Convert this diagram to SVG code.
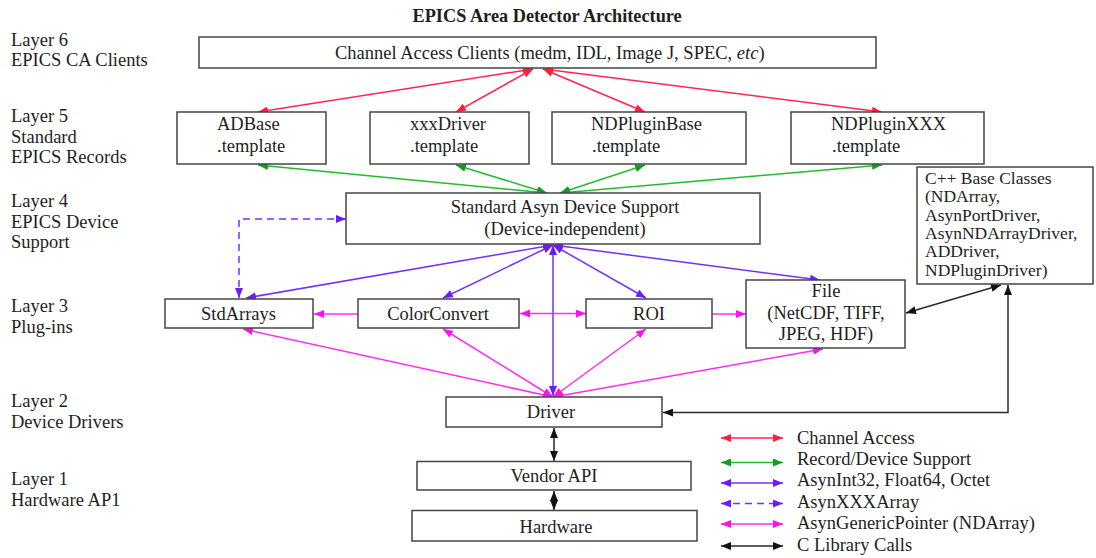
<svg xmlns="http://www.w3.org/2000/svg" width="1096" height="558" viewBox="0 0 1096 558">
  <style>
    text { font-family: "Liberation Serif", "Times New Roman", serif; font-size: 18.5px; fill: #1e1e1e; }
    .title { font-weight: bold; font-size: 18.3px; }
    .small { font-size: 17.5px; }
    .box { fill: #ffffff; stroke: #454545; stroke-width: 1.5; }
    .c { text-anchor: middle; }
    .ln { fill: none; stroke-width: 1.5; }
    .ca { stroke: #ff2650; marker-start: url(#aR); marker-end: url(#aR); }
    .rd { stroke: #22bb33; marker-start: url(#aG); marker-end: url(#aG); }
    .ai { stroke: #7530ff; marker-start: url(#aP); marker-end: url(#aP); }
    .ax { stroke: #7530ff; stroke-dasharray: 7 5; marker-start: url(#aP); marker-end: url(#aP); }
    .gp { stroke: #ff2cf2; marker-start: url(#aM); marker-end: url(#aM); }
    .gp1 { stroke: #ff2cf2; marker-end: url(#aM); }
    .cl { stroke: #2a2a2a; marker-start: url(#aK); marker-end: url(#aK); }
  </style>
  <defs>
    <marker id="aR" viewBox="0 0 10 8" refX="10" refY="4" markerWidth="10" markerHeight="8" markerUnits="userSpaceOnUse" orient="auto-start-reverse"><path d="M0,0 L10,4 L0,8 z" fill="#ff1f3a"/></marker>
    <marker id="aG" viewBox="0 0 10 8" refX="10" refY="4" markerWidth="10" markerHeight="8" markerUnits="userSpaceOnUse" orient="auto-start-reverse"><path d="M0,0 L10,4 L0,8 z" fill="#169a22"/></marker>
    <marker id="aP" viewBox="0 0 10 8" refX="10" refY="4" markerWidth="10" markerHeight="8" markerUnits="userSpaceOnUse" orient="auto-start-reverse"><path d="M0,0 L10,4 L0,8 z" fill="#6a1cff"/></marker>
    <marker id="aM" viewBox="0 0 10 8" refX="10" refY="4" markerWidth="10" markerHeight="8" markerUnits="userSpaceOnUse" orient="auto-start-reverse"><path d="M0,0 L10,4 L0,8 z" fill="#ff10ee"/></marker>
    <marker id="aK" viewBox="0 0 10 8" refX="10" refY="4" markerWidth="10" markerHeight="8" markerUnits="userSpaceOnUse" orient="auto-start-reverse"><path d="M0,0 L10,4 L0,8 z" fill="#111111"/></marker>
  </defs>

  <rect width="1096" height="558" fill="#ffffff"/>

  <text class="title" x="412.5" y="22">EPICS Area Detector Architecture</text>

  <!-- layer captions -->
  <g id="layer-labels">
    <text x="11" y="45.5">Layer 6</text>
    <text x="11" y="66">EPICS CA Clients</text>
    <text x="11" y="122">Layer 5</text>
    <text x="11" y="142.7">Standard</text>
    <text x="11" y="163.3">EPICS Records</text>
    <text x="11" y="206.7">Layer 4</text>
    <text x="11" y="228.3">EPICS Device</text>
    <text x="11" y="248.3">Support</text>
    <text x="11" y="311.7">Layer 3</text>
    <text x="11" y="333.3">Plug-ins</text>
    <text x="11" y="407">Layer 2</text>
    <text x="11" y="428">Device Drivers</text>
    <text x="11" y="485">Layer 1</text>
    <text x="11" y="505.5">Hardware AP1</text>
  </g>

  <!-- connectors -->
  <g id="connectors">
    <!-- Channel Access -->
    <path class="ln ca" d="M533,69 L258,112"/>
    <path class="ln ca" d="M533,69 L456,112"/>
    <path class="ln ca" d="M543,69 L645,112"/>
    <path class="ln ca" d="M543,69 L882,112"/>
    <!-- Record / device support -->
    <path class="ln rd" d="M547,193 L258,165"/>
    <path class="ln rd" d="M547,193 L456,165"/>
    <path class="ln rd" d="M560,193 L645,165"/>
    <path class="ln rd" d="M560,193 L882,165"/>
    <!-- asynInt32 / Float64 / Octet -->
    <path class="ln ai" d="M553,245 L246,298"/>
    <path class="ln ai" d="M553,245 L443,298"/>
    <path class="ln ai" d="M553,245 L553,396"/>
    <path class="ln ai" d="M553,245 L646,298"/>
    <path class="ln ai" d="M553,245 L820,280"/>
    <!-- asynXXXArray -->
    <path class="ln ax" d="M346,219 L239,219 L239,298"/>
    <!-- asynGenericPointer -->
    <path class="ln gp1" d="M358,314 L314,314"/>
    <path class="ln gp" d="M520,313.5 L586,313.5"/>
    <path class="ln gp1" d="M712,314 L746,314"/>
    <path class="ln gp" d="M553,397 L243,329"/>
    <path class="ln gp" d="M553,397 L443,329"/>
    <path class="ln gp" d="M553,397 L646,329"/>
    <path class="ln gp" d="M553,397 L823,349"/>
    <!-- C library calls -->
    <path class="ln cl" d="M906,313 L1001,285"/>
    <path class="ln cl" d="M663,412.5 L1008,412.5 L1008,285"/>
    <path class="ln cl" d="M554,428 L554,461"/>
    <path class="ln cl" d="M554,491 L554,510"/>
  </g>

  <g id="ca-clients">
    <rect class="box" x="199" y="37" width="677" height="31"/>
    <text x="335" y="59">Channel Access Clients (medm, IDL, Image J, SPEC, <tspan font-style="italic">etc</tspan>)</text>
  </g>

  <g id="adbase-template">
    <rect class="box" x="177" y="112" width="149" height="52"/>
    <text x="217" y="130">ADBase</text>
    <text x="217" y="152">.template</text>
  </g>
  <g id="xxxdriver-template">
    <rect class="box" x="370" y="112" width="159" height="52"/>
    <text x="410" y="130">xxxDriver</text>
    <text x="410" y="152">.template</text>
  </g>
  <g id="ndpluginbase-template">
    <rect class="box" x="552" y="112" width="194" height="52"/>
    <text x="591" y="130">NDPluginBase</text>
    <text x="592" y="152">.template</text>
  </g>
  <g id="ndpluginxxx-template">
    <rect class="box" x="791" y="112" width="193" height="52"/>
    <text x="831" y="130">NDPluginXXX</text>
    <text x="832" y="152">.template</text>
  </g>

  <g id="asyn-device-support">
    <rect class="box" x="346" y="193" width="414" height="51"/>
    <text class="c" x="565" y="213">Standard Asyn Device Support</text>
    <text class="c" x="565" y="235">(Device-independent)</text>
  </g>

  <g id="cpp-base-classes">
    <rect class="box" x="917" y="167" width="176" height="117"/>
    <text class="small" x="925" y="184">C++ Base Classes</text>
    <text class="small" x="925" y="202.3">(NDArray,</text>
    <text class="small" x="925" y="220.6">AsynPortDriver,</text>
    <text class="small" x="925" y="238.9">AsynNDArrayDriver,</text>
    <text class="small" x="925" y="257.2">ADDriver,</text>
    <text class="small" x="925" y="275.5">NDPluginDriver)</text>
  </g>

  <g id="stdarrays">
    <rect class="box" x="165" y="299" width="148" height="29"/>
    <text class="c" x="238.5" y="320">StdArrays</text>
  </g>
  <g id="colorconvert">
    <rect class="box" x="358" y="299" width="161" height="29"/>
    <text class="c" x="438" y="320">ColorConvert</text>
  </g>
  <g id="roi">
    <rect class="box" x="586" y="299" width="126" height="29"/>
    <text class="c" x="649" y="320">ROI</text>
  </g>
  <g id="file">
    <rect class="box" x="746" y="280" width="159" height="68"/>
    <text class="c" x="826" y="297">File</text>
    <text class="c" x="826" y="318.5">(NetCDF, TIFF,</text>
    <text class="c" x="826" y="340">JPEG, HDF)</text>
  </g>

  <g id="driver">
    <rect class="box" x="446" y="397" width="216" height="30"/>
    <text class="c" x="551" y="418">Driver</text>
  </g>
  <g id="vendor-api">
    <rect class="box" x="417" y="461.5" width="274" height="28.5"/>
    <text class="c" x="554" y="481.5">Vendor API</text>
  </g>
  <g id="hardware">
    <rect class="box" x="412" y="510.5" width="285" height="30.5"/>
    <text class="c" x="556" y="532.5">Hardware</text>
  </g>

  <!-- key -->
  <g id="legend">
    <path class="ln ca" d="M721,438 L783,438"/>
    <path class="ln rd" d="M721,462.5 L783,462.5"/>
    <path class="ln ai" d="M721,483 L783,483"/>
    <path class="ln ax" d="M721,503.5 L783,503.5"/>
    <path class="ln gp" d="M721,524 L783,524"/>
    <path class="ln cl" d="M721,546 L783,546"/>
    <text x="797" y="443.5">Channel Access</text>
    <text x="797" y="465">Record/Device Support</text>
    <text x="797" y="486">AsynInt32, Float64, Octet</text>
    <text x="797" y="507.5">AsynXXXArray</text>
    <text x="797" y="529">AsynGenericPointer (NDArray)</text>
    <text x="797" y="550.5">C Library Calls</text>
  </g>
</svg>
